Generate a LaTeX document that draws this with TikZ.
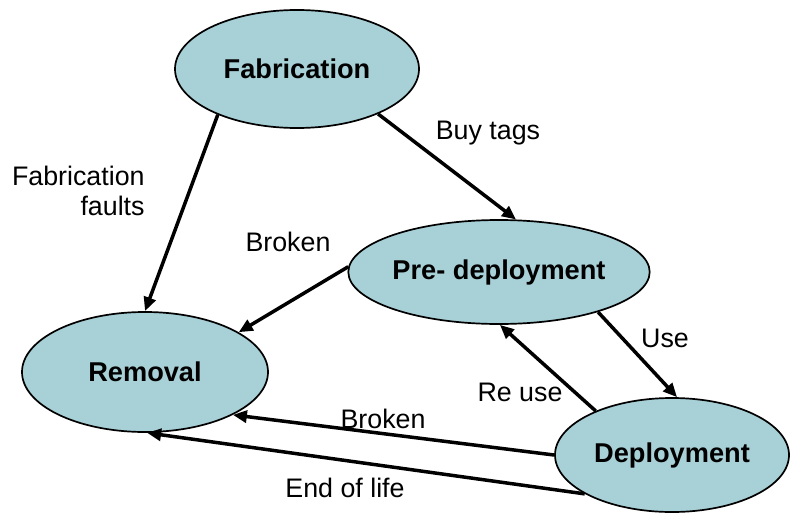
\documentclass[tikz,border=0pt]{standalone}
\usepackage{fontspec}
\setmainfont{Liberation Sans}
\usetikzlibrary{shapes.geometric,arrows.meta}
\definecolor{stagefill}{RGB}{168,208,215}
\tikzset{
  stage/.style={ellipse, draw=black, line width=0.85pt, fill=stagefill,
    inner sep=0pt, font=\fontsize{13.6pt}{16pt}\selectfont\bfseries},
  flow/.style={line width=1.75pt, -{Triangle[length=7pt,width=6pt]}},
  lbl/.style={font=\fontsize{13.4pt}{16pt}\selectfont, inner sep=0pt}
}
\begin{document}
\begin{tikzpicture}[x=0.5pt,y=-0.5pt]
\useasboundingbox (0,0) rectangle (790,513);

% life-cycle stages
\node[stage, minimum width=122pt, minimum height=59pt] (fab) at (297,69) {Fabrication};
\node[stage, minimum width=123pt, minimum height=60pt] (rem) at (145,372) {Removal};
\node[stage, minimum width=123pt, minimum height=52pt] (pre) at (499,272) {Pre- deployment};
\node[stage, minimum width=117pt, minimum height=57pt] (dep) at (672,455) {Deployment};

% transitions
\draw[flow] (fab.210) -- (rem.90);
\draw[flow] (fab.-29.5) -- (pre.72);
\draw[flow] (pre.178) -- (rem.23);
\draw[flow] (pre.-22.8) -- (dep.85);
\draw[flow] (dep.150) -- (pre.-89);
\draw[flow] (dep.180) -- (rem.-26.6);
\draw[flow] (dep.204.5) -- (rem.-88);

% transition labels
\node[lbl, align=right, anchor=east] (lfault) at (145,191) {Fabrication\\[-1pt]faults};
\node[lbl] (lbuy) at (488,133) {Buy tags};
\node[lbl] (lbrk1) at (288,242) {Broken};
\node[lbl] (luse) at (665,338) {Use};
\node[lbl] (lreuse) at (520,392) {Re use};
\node[lbl] (lbrk2) at (383,419) {Broken};
\node[lbl] (lend) at (345,488) {End of life};
\end{tikzpicture}
\end{document}
